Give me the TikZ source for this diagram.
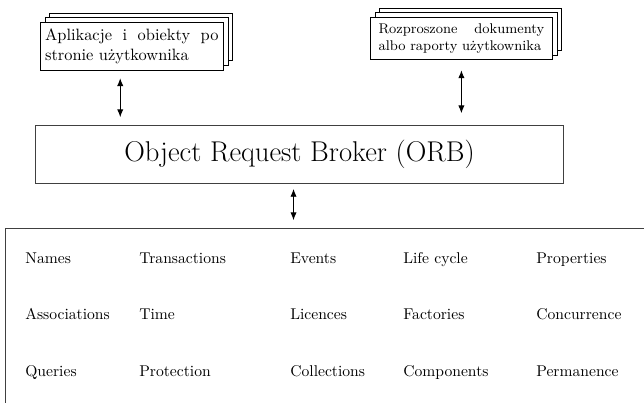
\documentclass[tikz,border=0pt]{standalone}
\usepackage{fontspec}
\usepackage{tikz}
\usetikzlibrary{
  arrows.meta,
  positioning,
  shadows
}

\begin{document}
\begin{tikzpicture}[
    x=0.64pt, y=-0.64pt,
    doc/.style={draw=black, fill=white, line width=0.5pt, align=justify, anchor=north west,
      inner xsep=3pt, inner ysep=4pt,
      double copy shadow={shadow xshift=3pt, shadow yshift=3pt}},
    orbbox/.style={draw=black!75, line width=0.6pt, anchor=north west,
      minimum width=337.9pt, minimum height=37.1pt, font=\fontsize{18.3}{22}\selectfont},
    svcbox/.style={draw=black!75, line width=0.6pt, anchor=north west,
      minimum width=419pt, minimum height=123pt},
    svc/.style={anchor=base west, inner sep=0pt},
    arr/.style={{Latex[length=5pt,width=4pt]}-{Latex[length=5pt,width=4pt]}, line width=0.6pt}
  ]
    \useasboundingbox (0,0) rectangle (644,402);
    \clip (0,0) rectangle (644,402);
    \node[doc, text width=111pt, font=\fontsize{10.5}{12.8}\selectfont] (app) at (40,22)
      {Aplikacje i obiekty po stronie użytkownika};
    \node[doc, text width=106pt, minimum width=116.5pt, font=\small] (rep) at (370,17)
      {Rozproszone dokumenty albo raporty użytkownika};
    \node[orbbox] (orb) at (35,125) {Object Request Broker (ORB)};
    \node[svcbox] (srv) at (5,228) {};
    \draw[arr, shorten <=5pt, shorten >=5pt]
      ([xshift=-7.4pt]app.south) -- ([xshift=-7.4pt]app.south |- orb.north);
    \draw[arr, shorten <=6.5pt, shorten >=7.5pt] (rep.south) -- (rep.south |- orb.north);
    \draw[arr, shorten <=3.2pt, shorten >=5pt]
      ([xshift=-3.8pt]orb.south) -- ([xshift=-3.8pt]orb.south |- srv.north);
    \foreach \x/\a/\b/\c [count=\i] in {
        25/Names/Associations/Queries,
        139/Transactions/Time/Protection,
        290/Events/Licences/Collections,
        403/Life cycle/Factories/Components,
        536/Properties/Concurrence/Permanence} {
      \node[svc] (s\i a) at (\x,263) {\a};
      \node[svc] (s\i b) at (\x,319) {\b};
      \node[svc] (s\i c) at (\x,376) {\c};
    }
\end{tikzpicture}
\end{document}
